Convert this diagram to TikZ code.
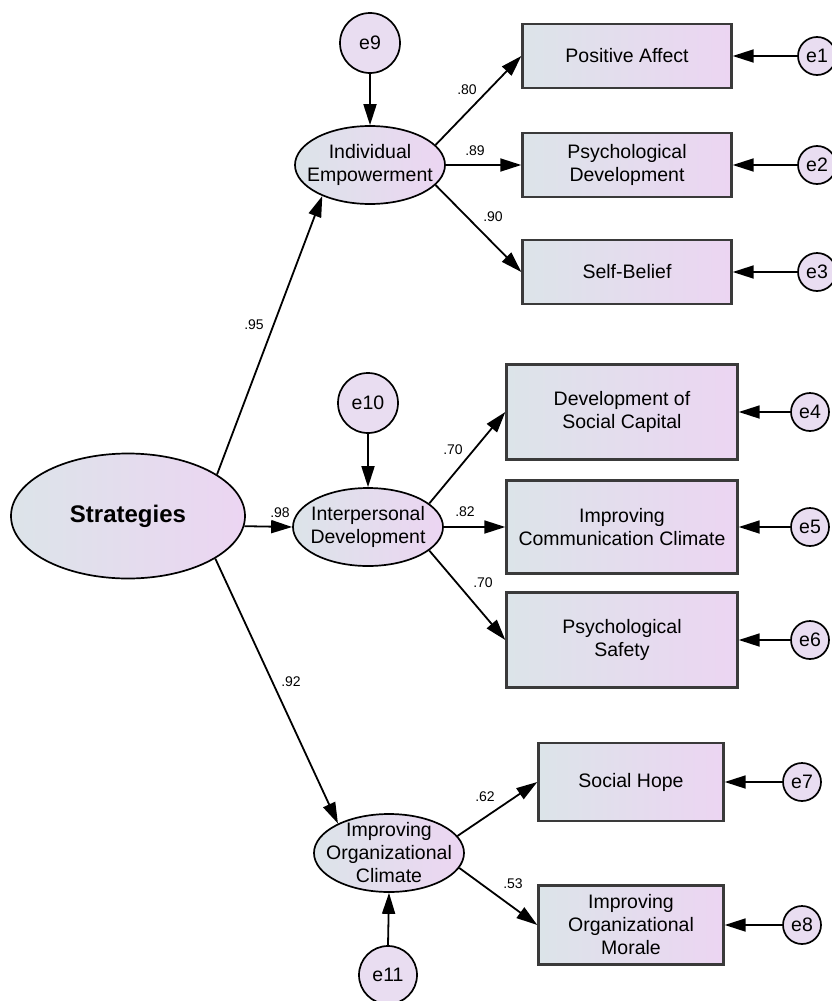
\documentclass[tikz,border=0pt]{standalone}
\usepackage{fontspec}
\setmainfont{Liberation Sans}
\usetikzlibrary{shapes.geometric,arrows.meta}

\definecolor{boxleft}{HTML}{DCE4E9}
\definecolor{boxright}{HTML}{ECD5F2}
\definecolor{errfill}{HTML}{E9DDF1}
\definecolor{edgegray}{HTML}{3A3A3A}

\begin{document}
\begin{tikzpicture}[
        x=1pt, y=-1pt,
        obs/.style={
            rectangle,
            draw=edgegray,
            line width=2.4pt,
            left color=boxleft,
            right color=boxright,
            align=center,
            font=\fontsize{19.5}{23}\selectfont,
            inner sep=2pt
        },
        latent/.style={
            ellipse,
            draw,
            line width=1.7pt,
            left color=boxleft,
            right color=boxright,
            align=center,
            minimum width=150pt,
            minimum height=78pt,
            font=\fontsize{19.5}{23}\selectfont,
            inner sep=-14pt
        },
        err/.style={
            circle,
            draw,
            line width=1.7pt,
            fill=errfill,
            minimum size=38pt,
            inner sep=0pt,
            font=\fontsize{19.5}{23}\selectfont
        },
        coef/.style={font=\fontsize{14}{16}\selectfont, inner sep=0pt},
        arrow/.style={-{Triangle[length=21pt,width=13pt]}, line width=1.8pt}
    ]
        \useasboundingbox (0,0) rectangle (831,1001);

        % latent variables
        \node[latent, minimum width=234pt, minimum height=125pt,
              font=\fontsize{24}{28}\selectfont\bfseries] (strat) at (128,516) {Strategies};
        \node[latent] (ie) at (370,165) {Individual\\Empowerment};
        \node[latent] (idev) at (368,527) {Interpersonal\\Development};
        \node[latent] (ioc) at (389,853) {Improving\\Organizational\\Climate};

        % disturbances
        \node[err, minimum size=60pt] (e9) at (370,43) {e9};
        \node[err, minimum size=60pt] (e10) at (368,403) {e10};
        \node[err, minimum size=58pt] (e11) at (388,975) {e11};

        % observed variables
        \node[obs, minimum width=209pt, minimum height=64pt] (pa) at (627,56) {Positive Affect};
        \node[obs, minimum width=209pt, minimum height=64pt] (pd) at (627,165) {Psychological\\Development};
        \node[obs, minimum width=209pt, minimum height=64pt] (sb) at (627,272) {Self-Belief};
        \node[obs, minimum width=231pt, minimum height=95pt] (dsc) at (622,412) {Development of\\Social Capital};
        \node[obs, minimum width=231pt, minimum height=93pt] (icc) at (622,527) {Improving\\Communication Climate};
        \node[obs, minimum width=231pt, minimum height=95pt] (ps) at (622,640) {Psychological\\Safety};
        \node[obs, minimum width=185pt, minimum height=78pt] (sh) at (631,782) {Social Hope};
        \node[obs, minimum width=185pt, minimum height=79pt] (iom) at (631,925) {Improving\\Organizational\\Morale};

        % measurement errors
        \node[err] (e1) at (817,56) {e1};
        \node[err] (e2) at (817,165) {e2};
        \node[err] (e3) at (817,272) {e3};
        \node[err] (e4) at (810,412) {e4};
        \node[err] (e5) at (810,527) {e5};
        \node[err] (e6) at (810,640) {e6};
        \node[err] (e7) at (802,782) {e7};
        \node[err] (e8) at (802,925) {e8};

        % structural paths
        \draw[arrow] (strat.25) -- (ie.213);
        \draw[arrow] (strat.-5) -- (idev.west);
        \draw[arrow] (strat.-26) -- (ioc.150);
        \draw[arrow] (e9.south) -- (ie.north);
        \draw[arrow] (e10.south) -- (idev.north);
        \draw[arrow] (e11.north) -- (ioc.south);

        % loadings
        \draw[arrow] (ie.17) -- (pa.west);
        \draw[arrow] (ie.east) -- (pd.west);
        \draw[arrow] (ie.-17) -- (sb.west);
        \draw[arrow] (idev.21) -- (dsc.west);
        \draw[arrow] (idev.east) -- (icc.west);
        \draw[arrow] (idev.-21) -- (ps.west);
        \draw[arrow] (ioc.14) -- (sh.west);
        \draw[arrow] (ioc.-12) -- (iom.west);

        \draw[arrow] (e1.west) -- (pa.east);
        \draw[arrow] (e2.west) -- (pd.east);
        \draw[arrow] (e3.west) -- (sb.east);
        \draw[arrow] (e4.west) -- (dsc.east);
        \draw[arrow] (e5.west) -- (icc.east);
        \draw[arrow] (e6.west) -- (ps.east);
        \draw[arrow] (e7.west) -- (sh.east);
        \draw[arrow] (e8.west) -- (iom.east);

        % estimates
        \node[coef] (c95) at (254,325) {.95};
        \node[coef] (c98) at (280,513) {.98};
        \node[coef] (c92) at (291,682) {.92};
        \node[coef] (c80) at (467,90) {.80};
        \node[coef] (c89) at (475,151) {.89};
        \node[coef] (c90) at (493,217) {.90};
        \node[coef] (c70a) at (453,450) {.70};
        \node[coef] (c82) at (465,512) {.82};
        \node[coef] (c70b) at (483,583) {.70};
        \node[coef] (c62) at (485,797) {.62};
        \node[coef] (c53) at (513,884) {.53};
    \end{tikzpicture}
\end{document}
